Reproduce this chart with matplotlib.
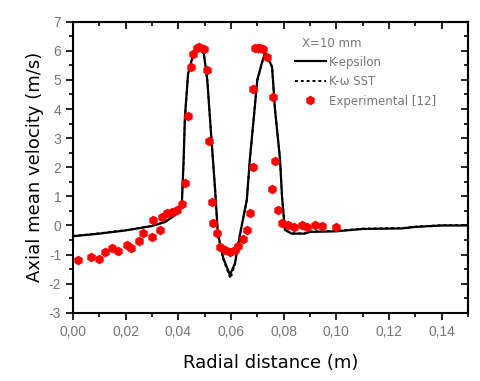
import matplotlib.pyplot as plt
from matplotlib.ticker import MultipleLocator, FuncFormatter

plt.rcParams['font.family'] = ['Liberation Sans', 'DejaVu Sans']

# K-epsilon profile
ke_x = [0.000, 0.010, 0.020, 0.030, 0.035, 0.0395, 0.0414, 0.0420, 0.0425, 0.0437,
        0.0456, 0.0480, 0.0497, 0.0510, 0.0524, 0.0540, 0.0550, 0.0570, 0.0596,
        0.0615, 0.0635, 0.0660, 0.0672, 0.0684, 0.0700, 0.0718, 0.0730, 0.0740,
        0.0756, 0.0767, 0.0786, 0.0794, 0.0805, 0.0830, 0.0880, 0.0900, 0.1000,
        0.1100, 0.1250, 0.1300, 0.1400, 0.1500]
ke_y = [-0.37, -0.28, -0.17, -0.02, 0.12, 0.40, 0.87, 2.2, 3.7, 5.2,
        5.85, 6.10, 5.90, 5.0, 3.2, 1.2, -0.27, -1.1, -1.70,
        -1.3, -0.27, 0.87, 2.3, 3.45, 5.0, 5.6, 5.95, 5.75,
        5.45, 4.0, 2.3, 0.97, -0.15, -0.28, -0.28, -0.22, -0.20,
        -0.12, -0.10, -0.05, 0.0, 0.0]

# K-omega SST profile (nearly coincident)
sst_x = [0.000, 0.010, 0.020, 0.030, 0.035, 0.0395, 0.0414, 0.0420, 0.0425, 0.0437,
         0.0456, 0.0480, 0.0497, 0.0510, 0.0524, 0.0540, 0.0550, 0.0570, 0.0598,
         0.0615, 0.0635, 0.0660, 0.0672, 0.0684, 0.0700, 0.0718, 0.0730, 0.0740,
         0.0756, 0.0767, 0.0786, 0.0794, 0.0805, 0.0830, 0.0880, 0.0900, 0.1000,
         0.1100, 0.1250, 0.1300, 0.1400, 0.1500]
sst_y = [-0.36, -0.27, -0.16, -0.01, 0.13, 0.41, 0.88, 2.2, 3.7, 5.2,
         5.85, 6.08, 5.90, 5.0, 3.2, 1.2, -0.27, -1.15, -1.82,
         -1.35, -0.27, 0.87, 2.3, 3.45, 5.0, 5.6, 5.93, 5.75,
         5.45, 4.0, 2.3, 0.97, -0.15, -0.27, -0.27, -0.21, -0.19,
         -0.11, -0.09, -0.04, 0.01, 0.01]

# experimental data [12]
exp_x = [0.002, 0.007, 0.010, 0.012, 0.015, 0.017, 0.0205, 0.022, 0.025, 0.0267,
         0.030, 0.0305, 0.033, 0.0338, 0.0357, 0.0375, 0.0395, 0.0414, 0.0425,
         0.0437, 0.0448, 0.0456, 0.047, 0.048, 0.0497, 0.0508, 0.0517, 0.0528,
         0.053, 0.0547, 0.0558, 0.0577, 0.0596, 0.0615, 0.0627, 0.0646, 0.066,
         0.0672, 0.0684, 0.0684, 0.069, 0.0703, 0.071, 0.0722, 0.0737, 0.076,
         0.0767, 0.0756, 0.078, 0.0794, 0.0817, 0.084, 0.087, 0.089, 0.092,
         0.0946, 0.100]
exp_y = [-1.18, -1.08, -1.15, -0.92, -0.78, -0.88, -0.67, -0.78, -0.54, -0.27,
         -0.40, 0.18, -0.16, 0.29, 0.42, 0.46, 0.52, 0.74, 1.45,
         3.76, 5.44, 5.90, 6.10, 6.12, 6.05, 5.35, 2.90, 0.82,
         0.08, -0.27, -0.75, -0.85, -0.90, -0.85, -0.70, -0.45, -0.17,
         0.42, 2.0, 4.68, 6.10, 6.10, 6.08, 6.05, 5.80, 4.40,
         2.20, 1.25, 0.53, 0.08, 0.0, -0.05, 0.0, -0.05, 0.0,
         -0.02, -0.05]

grey = '#767676'

fig = plt.figure(figsize=(4.8, 3.81), dpi=100)
ax = fig.add_axes([0.152, 0.179, 0.823, 0.764])

ax.plot(ke_x, ke_y, color='black', lw=1.6, label='K-epsilon')
ax.plot(sst_x, sst_y, color='black', lw=1.4, ls=(0, (1.5, 1.5)), label='K-ω SST')
ax.plot(exp_x, exp_y, ls='none', marker='h', ms=5.8, color='#ff0000', mec='#ff0000',
        label='Experimental [12]')

ax.set_xlim(0, 0.15)
ax.set_ylim(-3, 7)
ax.xaxis.set_major_locator(MultipleLocator(0.02))
ax.xaxis.set_minor_locator(MultipleLocator(0.01))
ax.yaxis.set_major_locator(MultipleLocator(1))
ax.yaxis.set_minor_locator(MultipleLocator(0.5))
ax.xaxis.set_major_formatter(FuncFormatter(lambda v, p: f"{v:.2f}".replace('.', ',')))
ax.yaxis.set_major_formatter(FuncFormatter(lambda v, p: f"{v:.0f}"))

ax.tick_params(which='both', direction='out', top=False, right=False,
               labelsize=10, labelcolor=grey, width=1.2)
ax.tick_params(which='major', length=5)
ax.tick_params(which='minor', length=3)
ax2 = ax.secondary_xaxis('top')
ax2.xaxis.set_major_locator(MultipleLocator(0.02))
ax2.xaxis.set_minor_locator(MultipleLocator(0.01))
ax2.tick_params(which='both', direction='in', labeltop=False, width=1.2)
ax2.tick_params(which='major', length=5)
ax2.tick_params(which='minor', length=3)
ax3 = ax.secondary_yaxis('right')
ax3.yaxis.set_major_locator(MultipleLocator(1))
ax3.yaxis.set_minor_locator(MultipleLocator(0.5))
ax3.tick_params(which='both', direction='in', labelright=False, width=1.2)
ax3.tick_params(which='major', length=5)
ax3.tick_params(which='minor', length=3)
for s in ax.spines.values():
    s.set_linewidth(1.5)
ax2.spines['top'].set_linewidth(1.5)
ax3.spines['right'].set_linewidth(1.5)

ax.set_xlabel('Radial distance (m)', fontsize=13, family='DejaVu Sans', labelpad=11)
ax.set_ylabel('Axial mean velocity (m/s)', fontsize=13, family='DejaVu Sans', labelpad=3)

leg = ax.legend(loc='upper left', bbox_to_anchor=(0.535, 0.92), frameon=False,
                prop={'family': 'DejaVu Sans', 'size': 8.5}, handlelength=2.6,
                handletextpad=0.3, labelspacing=0.55, labelcolor=grey)
ax.text(0.655, 0.925, 'X=10 mm', transform=ax.transAxes, fontsize=8.5,
        family='DejaVu Sans', color=grey, ha='center', va='center')

fig.savefig('out.png', dpi=100)
